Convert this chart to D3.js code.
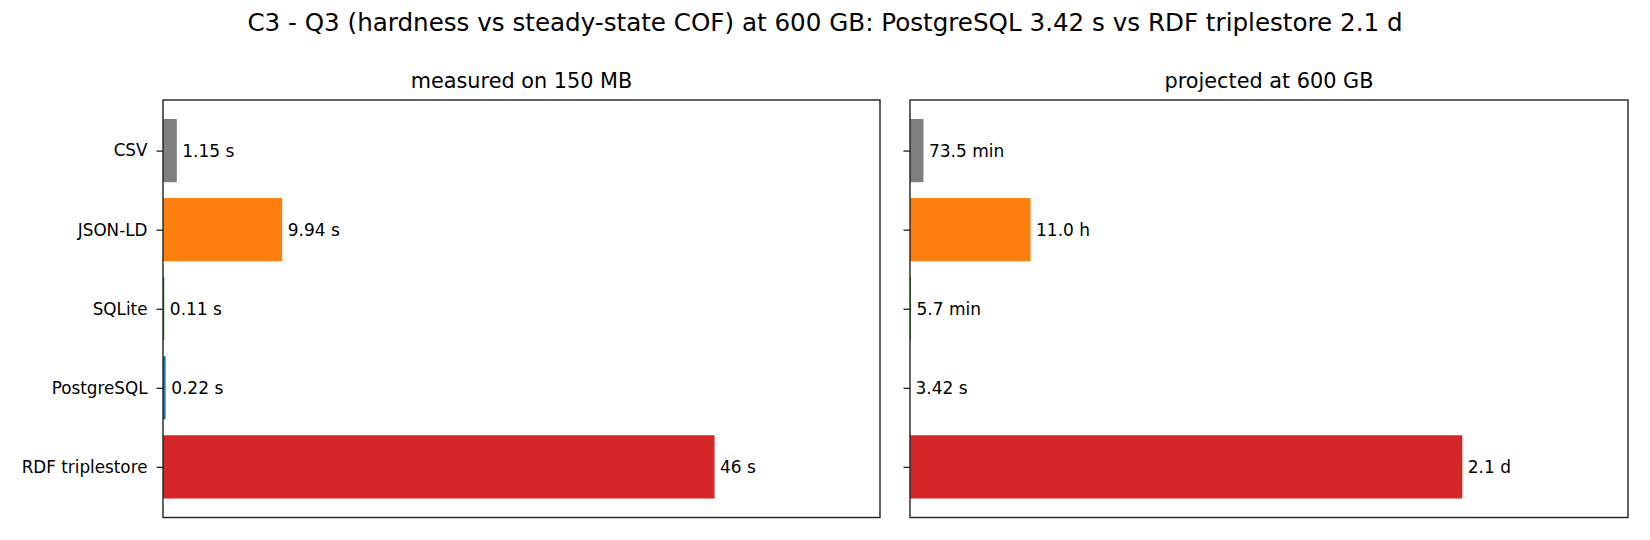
<!DOCTYPE html>
<html>
<head>
<meta charset="utf-8">
<script src="https://cdn.jsdelivr.net/npm/d3@7"></script>
<style>
  body { margin: 0; background: #fff; }
  text { font-family: "DejaVu Sans", sans-serif; fill: #000; }
</style>
</head>
<body>
<div id="chart"></div>
<script>
var svgWidth = 1650;
var svgHeight = 540;

// data
var categories = ["CSV", "JSON-LD", "SQLite", "PostgreSQL", "RDF triplestore"];
var colors = ["#7f7f7f", "#ff7f0e", "#2ca02c", "#1f77b4", "#d62728"];
// seconds
var measured = [1.15, 9.94, 0.11, 0.22, 46];
var measuredLabels = ["1.15 s", "9.94 s", "0.11 s", "0.22 s", "46 s"];
var projected = [73.5 * 60, 11.0 * 3600, 5.7 * 60, 3.42, 2.1 * 86400];
var projectedLabels = ["73.5 min", "11.0 h", "5.7 min", "3.42 s", "2.1 d"];

var panelTitles = ["measured on 150 MB", "projected at 600 GB"];
var mainTitle = "C3 - Q3 (hardness vs steady-state COF) at 600 GB: PostgreSQL 3.42 s vs RDF triplestore 2.1 d";

var svg = d3.select("#chart")
  .append("svg")
  .attr("width", svgWidth)
  .attr("height", svgHeight);

svg.append("text")
  .attr("x", 825)
  .attr("y", 30.5)
  .attr("text-anchor", "middle")
  .style("font-size", "24.6px")
  .text(mainTitle);

var plotTop = 100, plotBottom = 517.5;

// matplotlib-like band: bars 0.8 wide, 5% margins
var yScale = d3.scaleLinear()
  .domain([-0.64, categories.length - 1 + 0.64])
  .range([plotTop, plotBottom]);
var barH = yScale(0.4) - yScale(-0.4);

function drawPanel(left, right, values, labels, title, showLabels) {
  var g = svg.append("g");

  var xScale = d3.scaleLinear()
    .domain([0, d3.max(values) * 1.3])
    .range([left, right]);

  g.selectAll("rect.bar")
    .data(values)
    .enter()
    .append("rect")
    .attr("class", "bar")
    .attr("x", xScale(0))
    .attr("y", (d, i) => yScale(i) - barH / 2)
    .attr("width", d => xScale(d) - xScale(0))
    .attr("height", barH)
    .attr("fill", (d, i) => colors[i]);

  g.selectAll("text.val")
    .data(values)
    .enter()
    .append("text")
    .attr("class", "val")
    .attr("x", d => xScale(d) + 5.5)
    .attr("y", (d, i) => yScale(i))
    .attr("dy", "0.35em")
    .style("font-size", "17px")
    .text((d, i) => labels[i]);

  // y axis with ticks
  var yAxis = d3.axisLeft(yScale)
    .tickValues(d3.range(categories.length))
    .tickSize(6.5)
    .tickPadding(9)
    .tickFormat(i => showLabels ? categories[i] : "");

  var ax = g.append("g")
    .attr("transform", `translate(${left}, 0)`)
    .call(yAxis);
  ax.select(".domain").remove();
  ax.selectAll("line").attr("stroke", "#222").attr("stroke-width", 1.3);
  ax.selectAll("text")
    .style("font-size", "16.8px")
    .attr("fill", "#000");

  // frame
  g.append("rect")
    .attr("x", left)
    .attr("y", plotTop)
    .attr("width", right - left)
    .attr("height", plotBottom - plotTop)
    .attr("fill", "none")
    .attr("stroke", "#222")
    .attr("stroke-width", 1.4);

  g.append("text")
    .attr("x", (left + right) / 2)
    .attr("y", 87.5)
    .attr("text-anchor", "middle")
    .style("font-size", "20.8px")
    .text(title);
}

drawPanel(163, 880, measured, measuredLabels, panelTitles[0], true);
drawPanel(910, 1628, projected, projectedLabels, panelTitles[1], false);
</script>
</body>
</html>
